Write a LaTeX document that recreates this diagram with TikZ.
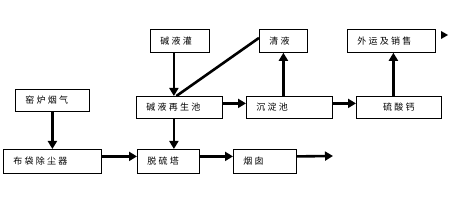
\documentclass[tikz,border=0pt]{standalone}
\usepackage{fontspec}
\newfontfamily\cjk[LetterSpace=25]{Noto Sans CJK SC}
\usetikzlibrary{arrows.meta}
\tikzset{
  blk/.style={draw, line width=.8pt, anchor=north west, minimum height=23pt,
    inner xsep=10pt, inner ysep=0pt, text width=#1, align=left,
    font=\cjk\fontsize{9}{10}\selectfont},
  arr/.style={line width=2.6pt, -{Triangle[length=8pt,width=9pt]}}
}
\begin{document}
\begin{tikzpicture}[x=1pt, y=-1pt]
        \useasboundingbox (0,0) rectangle (452,200);
        % top row
        \node[blk=39pt] (jyg) at (150,29) {碱液灌};
        \node[blk=28pt] (qy) at (259,29) {清液};
        \node[blk=68pt] (wy) at (347,29) {外运及销售};
        % middle row
        \node[blk=54pt, minimum height=22pt] (ylyq) at (15,89) {窑炉烟气};
        \node[blk=66pt, minimum height=22pt] (zsc) at (136,96) {碱液再生池};
        \node[blk=66pt, minimum height=22pt] (cdc) at (246,96) {沉淀池};
        \node[blk=65pt, minimum height=22pt, align=center] (lsg) at (356,96) {硫酸钙};
        % bottom row
        \node[blk=78pt, minimum height=24pt] (bdc) at (3,149) {布袋除尘器};
        \node[blk=42pt, minimum height=24pt] (tlt) at (137,149) {脱硫塔};
        \node[blk=43pt, minimum height=24pt] (yc) at (233,149) {烟囱};
        \coordinate (out) at (333,156);
        \coordinate (t1) at (441,35);
        \coordinate (t2) at (448,35);
        % connectors
        \draw[arr] (ylyq.south) -- (ylyq.south |- bdc.north);
        \draw[arr] ([xshift=-6pt]jyg.south) -- ([xshift=-6pt]jyg.south |- zsc.north);
        \draw[line width=2.6pt] ([yshift=3pt]qy.west) -- ([xshift=-3pt]zsc.north);
        \draw[arr] ([xshift=-6pt]jyg.south |- zsc.south) -- ([xshift=-6pt]jyg.south |- tlt.north);
        \draw[arr] ([yshift=4pt]zsc.east) -- ([yshift=4pt]zsc.east -| cdc.west);
        \draw[arr] ([yshift=4pt]cdc.east) -- ([yshift=4pt]cdc.east -| lsg.west);
        \draw[arr] (qy.south |- cdc.north) -- (qy.south);
        \draw[arr] ([xshift=2pt]wy.south |- lsg.north) -- ([xshift=2pt]wy.south);
        \foreach \a/\b in {bdc/tlt, tlt/yc} {
            \draw[arr] ([yshift=5pt]\a.east) -- ([yshift=5pt]\a.east -| \b.west);
        }
        \draw[arr] ([yshift=5pt]yc.east) -- (out);
        \fill ([yshift=4pt]t1) -- (t2) -- ([yshift=-4pt]t1) -- cycle;
    \end{tikzpicture}
\end{document}
